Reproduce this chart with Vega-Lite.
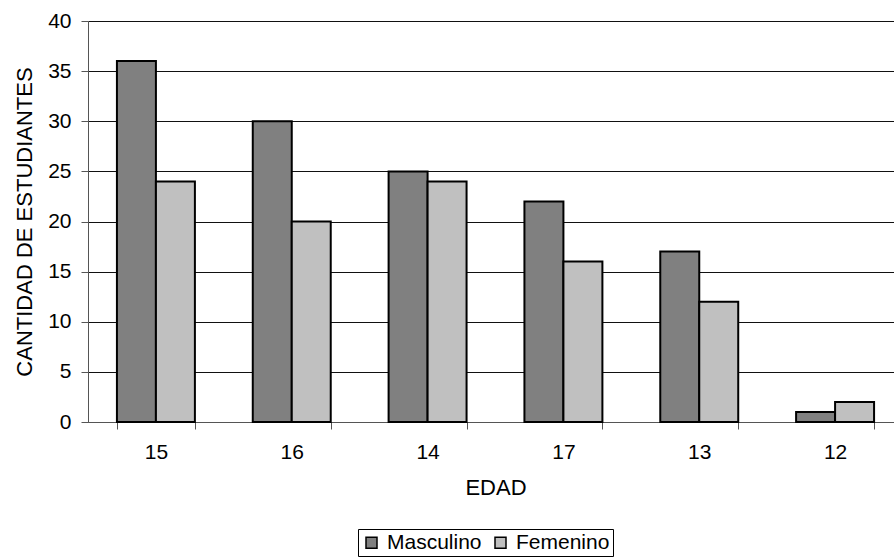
{
  "$schema": "https://vega.github.io/schema/vega-lite/v6.json",
  "width": 806,
  "height": 401,
  "autosize": {"type": "none"},
  "padding": {"left": 88, "top": 21, "right": 0, "bottom": 137},
  "background": "white",
  "config": {
    "view": {"stroke": null},
    "font": "Liberation Sans",
    "axis": {"labelFont": "Liberation Sans", "titleFont": "Liberation Sans", "labelColor": "#000", "titleColor": "#000", "titleFontWeight": "normal"},
    "legend": {"labelFont": "Liberation Sans"}
  },
  "data": {
    "values": [
      {"edad": "15", "sexo": "Masculino", "n": 36},
      {"edad": "15", "sexo": "Femenino", "n": 24},
      {"edad": "16", "sexo": "Masculino", "n": 30},
      {"edad": "16", "sexo": "Femenino", "n": 20},
      {"edad": "14", "sexo": "Masculino", "n": 25},
      {"edad": "14", "sexo": "Femenino", "n": 24},
      {"edad": "17", "sexo": "Masculino", "n": 22},
      {"edad": "17", "sexo": "Femenino", "n": 16},
      {"edad": "13", "sexo": "Masculino", "n": 17},
      {"edad": "13", "sexo": "Femenino", "n": 12},
      {"edad": "12", "sexo": "Masculino", "n": 1},
      {"edad": "12", "sexo": "Femenino", "n": 2}
    ]
  },
  "mark": {"type": "bar", "stroke": "#000", "strokeWidth": 2},
  "encoding": {
    "x": {
      "field": "edad",
      "type": "nominal",
      "sort": ["15", "16", "14", "17", "13", "12"],
      "scale": {"range": [0, 815], "paddingInner": 0.426, "paddingOuter": 0.213},
      "axis": {
        "title": "EDAD",
        "labelAngle": 0,
        "labelFontSize": 21,
        "titleFontSize": 22,
        "labelPadding": 12,
        "titlePadding": 15,
        "tickBand": "extent",
        "tickSize": 7,
        "tickColor": "#555",
        "domainColor": "#555",
        "grid": false
      }
    },
    "xOffset": {"field": "sexo", "type": "nominal", "sort": ["Masculino", "Femenino"]},
    "y": {
      "field": "n",
      "type": "quantitative",
      "scale": {"domain": [0, 40], "nice": false},
      "axis": {
        "title": "CANTIDAD DE ESTUDIANTES",
        "values": [0, 5, 10, 15, 20, 25, 30, 35, 40],
        "labelFontSize": 21,
        "titleFontSize": 22,
        "labelPadding": 10,
        "titlePadding": 11,
        "tickSize": 7,
        "tickColor": "#555",
        "domainColor": "#555",
        "grid": true,
        "gridColor": "#111",
        "gridWidth": 1
      }
    },
    "color": {
      "field": "sexo",
      "type": "nominal",
      "sort": ["Masculino", "Femenino"],
      "scale": {"domain": ["Masculino", "Femenino"], "range": ["#808080", "#C0C0C0"]},
      "legend": {
        "title": null,
        "orient": "none",
        "legendX": 270,
        "legendY": 508,
        "direction": "horizontal",
        "strokeColor": "#000",
        "padding": 3,
        "symbolType": "square",
        "symbolSize": 121,
        "symbolStrokeColor": "#000",
        "symbolStrokeWidth": 1.5,
        "symbolOpacity": 1,
        "labelFontSize": 21,
        "labelColor": "#000",
        "columnPadding": 8,
        "labelOffset": 5
      }
    }
  }
}
